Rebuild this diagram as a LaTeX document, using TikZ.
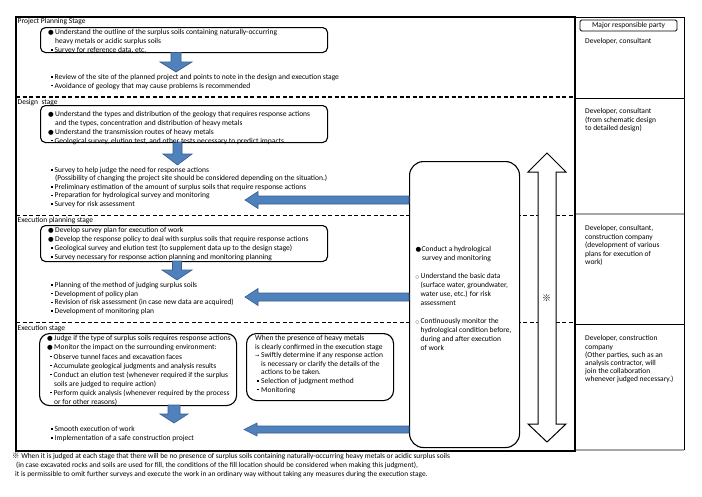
\documentclass[tikz,border=0pt]{standalone}
\usepackage{fontspec}
\setmainfont{Carlito}
\newfontfamily\dvfont{DejaVu Sans}
\newfontfamily\cjkfont{Noto Sans CJK JP}
\usetikzlibrary{calc}
\definecolor{arrowblue}{HTML}{4F81BD}
\definecolor{arrowedge}{HTML}{385D8A}
\newcommand\blk{\fontsize{7.5}{8.9}\selectfont}
\newcommand\bigb{{\dvfont\fontsize{6.5}{6.5}\selectfont ●}}
\newcommand\sqb{\raisebox{0.25em}{\rule{1.4pt}{1.4pt}}}
\newcommand\Lb{\makebox[7pt][l]{\bigb}}
\newcommand\Ls{\makebox[6.5pt][l]{\hspace{3pt}\sqb}}
\newcommand\Lc{\hspace*{7pt}}
\newcommand\Lo{\makebox[5pt][l]{{\dvfont\fontsize{4}{4}\selectfont ○}}}
\newcommand\fatarrow[5]{%
  \coordinate (fahead) at ($(#2)!#5!(#1)$);
  \filldraw[bluearrow] ($(#1)!#3!90:(#2)$) -- ($(fahead)!#3!90:(#2)$) -- ($(fahead)!#4!90:(#2)$) -- (#2) -- ($(fahead)!#4!-90:(#2)$) -- ($(fahead)!#3!-90:(#2)$) -- ($(#1)!#3!-90:(#2)$) -- cycle;}
\begin{document}
\begin{tikzpicture}[x=1pt,y=-1pt,
  txt/.style={inner sep=0pt, align=left, anchor=north west, font=\blk},
  lbl/.style={inner sep=0pt, anchor=base west, font=\blk},
  rbox/.style={draw, line width=1.1pt, rounded corners=5pt, anchor=north west, inner sep=0pt, fill=white},
  bluearrow/.style={fill=arrowblue, draw=arrowedge, line width=0.6pt, line join=miter},
  dashline/.style={line width=1.1pt, dash pattern=on 4pt off 2.5pt},
  thinline/.style={line width=0.7pt}]
\fill[white] (0,0) rectangle (702,496);
\path[use as bounding box] (0,0) rectangle (702,496);

% dashed stage separators
\draw[dashline] (16,97) -- (575,97);
\draw[dashline] (16,215.5) -- (575,215.5);
\draw[dashline] (16,322.5) -- (575,322.5);

% right column
\draw[thinline] (575,17) -- (684,17) -- (684,450);
\draw[thinline] (575,98) -- (684,98);
\draw[gray!70, line width=1.3pt] (575,214) -- (684,214);
\draw[thinline] (575,324) -- (684,324);
\draw[gray!70, line width=1.3pt] (575,450) -- (684,450);
\node[draw, rounded corners=1.5pt, line width=0.8pt, minimum width=97pt, minimum height=11pt, inner sep=0pt, font=\blk] (mrp) at (628.5,25.5) {Major responsible party};
\node[txt] (r1) at (585,38.5) {Developer, consultant};
\node[txt, font=\fontsize{7.5}{8.5}\selectfont] (r2) at (585,108.5) {Developer, consultant\\(from schematic design\\to detailed design)};
\node[txt, font=\fontsize{7.5}{8.5}\selectfont] (r3) at (585,225.5) {Developer, consultant,\\construction company\\(development of various\\plans for execution of\\work)};
\node[txt, font=\fontsize{7.5}{8.1}\selectfont] (r4) at (585,335.5) {Developer, construction\\company\\(Other parties, such as an\\analysis contractor, will\\join the collaboration\\whenever judged necessary.)};

% stage labels
\node[lbl] (l1) at (17.5,23) {Project Planning Stage};
\node[lbl] (l2) at (17.5,104.5) {Design\ \ stage};
\node[lbl] (l3) at (17.5,222) {Execution planning stage};
\node[lbl] (l4) at (17.5,330) {Execution stage};

% rounded boxes
\node[rbox, minimum width=287pt, minimum height=25pt] (pbox) at (40,27) {};
\node[rbox, minimum width=287pt, minimum height=37pt] (dbox) at (40,105) {};
\node[rbox, minimum width=287pt, minimum height=36pt] (epbox) at (40,225) {};
\node[rbox, rounded corners=10pt, minimum width=197pt, minimum height=72pt] (ebox) at (39,333) {};
\node[rbox, rounded corners=10pt, minimum width=147pt, minimum height=67pt] (wbox) at (246,333) {};
\node[rbox, rounded corners=14pt, minimum width=110pt, minimum height=286pt] (hydro) at (409,161) {};

% hollow double arrow
\coordinate (dtop) at (547,153);
\coordinate (dbot) at (547,442);
\filldraw[fill=white, draw=black, line width=1pt, line join=miter] (dtop) -- (566,172) -- (556,172) -- (556,424) -- (566,424) -- (dbot) -- (528,424) -- (538,424) -- (538,172) -- (528,172) -- cycle;
\node[inner sep=0pt, font=\cjkfont\fontsize{9}{9}\selectfont] (kome) at (546.5,298) {※};

% blue down arrows
\coordinate (pa1) at (176,52.5);
\coordinate (pa2) at (176,72);
\fatarrow{pa1}{pa2}{5pt}{16pt}{10pt}
\coordinate (da1) at (177.5,142);
\coordinate (da2) at (177.5,165);
\fatarrow{da1}{da2}{4.5pt}{14.5pt}{11pt}
\coordinate (ea1) at (177,261);
\coordinate (ea2) at (177,280);
\fatarrow{ea1}{ea2}{4.5pt}{15pt}{10pt}
\coordinate (xa1) at (174,405);
\coordinate (xa2) at (174,423);
\fatarrow{xa1}{xa2}{6pt}{14pt}{9pt}

% blue left arrows from hydrological box
\coordinate (h1) at (hydro.west |- 0,200);
\coordinate (h1t) at (245,200);
\fatarrow{h1}{h1t}{4pt}{8.5pt}{13pt}
\coordinate (h2) at (hydro.west |- 0,297);
\coordinate (h2t) at (245,297);
\fatarrow{h2}{h2t}{4pt}{8.5pt}{13pt}
\coordinate (h3) at (hydro.west |- 0,429.5);
\coordinate (h3t) at (244,429.5);
\fatarrow{h3}{h3t}{3.5pt}{6.5pt}{13pt}

% texts
\node[txt] (pt) at (48,29.4) {\Lb Understand the outline of the surplus soils containing naturally-occurring\\
\Lc heavy metals or acidic surplus soils\\
\Ls Survey for reference data, etc.};
\node[txt, font=\fontsize{7.5}{8.6}\selectfont] (pa) at (48,74) {\Ls Review of the site of the planned project and points to note in the design and execution stage\\
\Ls Avoidance of geology that may cause problems is recommended};

\node[txt, font=\fontsize{7.5}{8.8}\selectfont] (dt) at (48,111.2) {\Lb Understand the types and distribution of the geology that requires response actions\\
\Lc and the types, concentration and distribution of heavy metals\\
\Lb Understand the transmission routes of heavy metals\\
\Ls Geological survey, elution test, and other tests necessary to predict impacts};
\node[txt, font=\fontsize{7.5}{8.5}\selectfont] (da) at (48,167) {\Ls Survey to help judge the need for response actions\\
\Lc (Possibility of changing the project site should be considered depending on the situation.)\\
\Ls Preliminary estimation of the amount of surplus soils that require response actions\\
\Ls Preparation for hydrological survey and monitoring\\
\Ls Survey for risk assessment};

\node[txt, font=\fontsize{7.5}{9}\selectfont] (et) at (48,227.2) {\Lb Develop survey plan for execution of work\\
\Lb Develop the response policy to deal with surplus soils that require response actions\\
\Ls Geological survey and elution test (to supplement data up to the design stage)\\
\Ls Survey necessary for response action planning and monitoring planning};
\node[txt, font=\fontsize{7.5}{8.7}\selectfont] (ea) at (48,282) {\Ls Planning of the method of judging surplus soils\\
\Ls Development of policy plan\\
\Ls Revision of risk assessment (in case new data are acquired)\\
\Ls Development of monitoring plan};

\node[txt, font=\fontsize{7.5}{9.07}\selectfont] (xt) at (47,335.5) {\Lb Judge if the type of surplus soils requires response actions\\
\Lb Monitor the impact on the surrounding environment:\\
\Ls Observe tunnel faces and excavation faces\\
\Ls Accumulate geological judgments and analysis results\\
\Ls Conduct an elution test (whenever required if the surplus\\
\Lc soils are judged to require action)\\
\Ls Perform quick analysis (whenever required by the process\\
\Lc or for other reasons)};
\node[txt, font=\fontsize{7.5}{9}\selectfont] (xa) at (48,426) {\Ls Smooth execution of work\\
\Ls Implementation of a safe construction project};

\node[txt, font=\fontsize{7.5}{8.6}\selectfont] (wt) at (255,335) {When the presence of heavy metals\\
is clearly confirmed in the execution stage\\
\makebox[6pt][l]{{\dvfont\fontsize{5}{5}\selectfont →}}Swiftly determine if any response action\\
\hspace*{6pt}is necessary or clarify the details of the\\
\hspace*{6pt}actions to be taken.\\
\makebox[6pt][l]{\hspace{2pt}\sqb}Selection of judgment method\\
\makebox[6pt][l]{\hspace{2pt}\sqb}Monitoring};

\node[txt, font=\fontsize{7.5}{9}\selectfont] (ht) at (415.5,246) {\makebox[6pt][l]{\bigb}Conduct a hydrological\\
\hspace*{6.5pt}survey and monitoring\\
\mbox{}\\
\Lo Understand the basic data\\
\hspace*{5pt}(surface water, groundwater,\\
\hspace*{5pt}water use, etc.) for risk\\
\hspace*{5pt}assessment\\
\mbox{}\\
\Lo Continuously monitor the\\
\hspace*{5pt}hydrological condition before,\\
\hspace*{5pt}during and after execution\\
\hspace*{5pt}of work};

% main frame
\draw[line width=2pt] (16,17) rectangle (575,451);

% footnote
\node[txt, font=\fontsize{7.4}{9}\selectfont] (fn) at (12,452.5) {{\cjkfont ※} When it is judged at each stage that there will be no presence of surplus soils containing naturally-occurring heavy metals or acidic surplus soils\\
\hspace*{4pt}(in case excavated rocks and soils are used for fill, the conditions of the fill location should be considered when making this judgment),\\
\hspace*{3pt}it is permissible to omit further surveys and execute the work in an ordinary way without taking any measures during the execution stage.};
\end{tikzpicture}
\end{document}
